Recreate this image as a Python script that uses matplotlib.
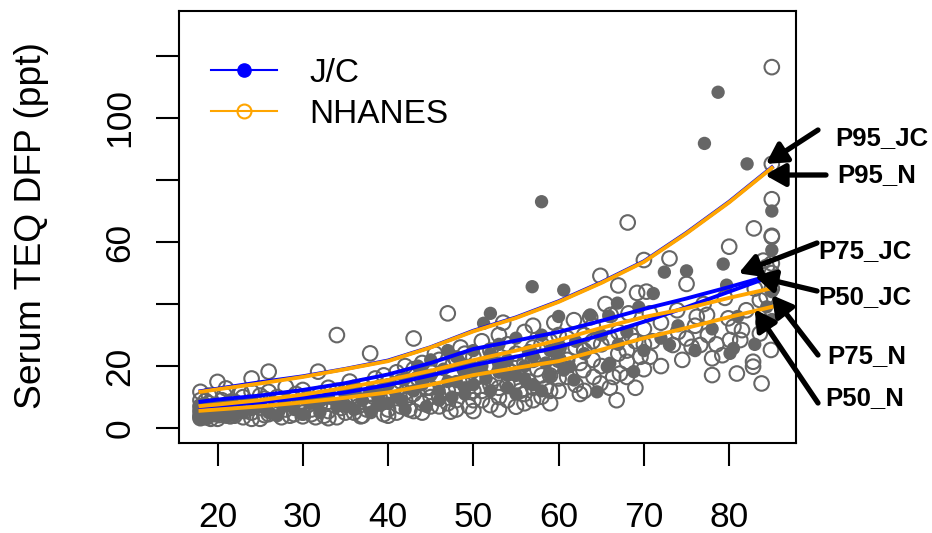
import numpy as np
import matplotlib.pyplot as plt
from matplotlib.lines import Line2D

plt.rcParams['font.family'] = ['Liberation Sans', 'DejaVu Sans']

GREY = '#666666'
BLUE = '#0000FF'
ORANGE = '#FFA500'

# percentile curves
ages = [18, 20, 25, 30, 35, 40, 45, 50, 55, 60, 65, 70, 75, 80, 85]
p95_jc = [11.9, 12.7, 14.8, 16.7, 19.1, 21.8, 26.1, 31.4, 35.7, 40.9, 47.0, 53.8, 63.0, 73.0, 84.1]
p75_jc = [8.5, 9.2, 10.5, 12.3, 14.5, 17.3, 21.0, 25.5, 28.2, 31.0, 34.6, 38.4, 41.8, 45.5, 49.4]
p50_jc = [6.4, 7.0, 8.3, 9.8, 11.5, 13.9, 17.0, 20.3, 23.0, 26.2, 30.0, 34.3, 39.0, 44.0, 49.0]
p95_n = [11.7, 12.5, 14.4, 16.5, 19.0, 21.6, 26.0, 31.2, 35.5, 40.7, 46.8, 53.6, 62.8, 72.8, 83.9]
p75_n = [7.1, 7.6, 9.0, 10.8, 13.0, 15.5, 18.5, 21.9, 25.0, 28.4, 32.3, 35.8, 38.6, 42.0, 45.1]
p50_n = [5.6, 6.0, 7.0, 8.3, 9.8, 11.5, 14.0, 17.1, 19.4, 21.6, 25.3, 29.0, 32.3, 35.8, 39.1]

# individual measurements (age, ppt)
nh_points = [
    (18, 11.7), (18, 9), (18, 7), (18, 5.5), (18, 4), (18.5, 6.5), (18.5, 3.5), (19, 8), (19, 5),
    (19, 10.5), (19.5, 4.5), (20, 14.9), (20, 7), (20, 6), (20, 3), (20.5, 9), (21, 12.8), (21, 5),
    (21, 7.5), (18, 3.2), (18.2, 6), (18.6, 8.8), (19.2, 3), (19.6, 7), (20.2, 4.2), (20.8, 10.8),
    (21.5, 8.5), (21.5, 3.8),
    (22, 4), (22, 8.5), (22.5, 6), (23, 10), (23, 3.5), (23.5, 7), (24, 16), (24, 11.7), (24, 5),
    (24.5, 8), (25, 3), (25, 6.5), (25.5, 9.5), (26, 18.2), (26, 11.7), (26, 4.5), (26.5, 7.5),
    (27, 10), (27, 5.5), (27.5, 3.5), (28, 13.3), (28, 8), (28, 6), (29, 4.5), (29, 9.5), (29.5, 7),
    (30, 12.3), (30, 5), (30, 3.8), (22, 6.5), (22.8, 11.5), (23.2, 5.5), (24, 3), (25, 10.5),
    (25.5, 4.2), (26.8, 5), (27.2, 8.8), (28.5, 4), (29.2, 11), (30, 7), (30.5, 9.5),
    (31, 9), (31, 6), (31.5, 3.5), (31.8, 18.2), (32, 11), (32, 7.5), (32.5, 4), (33, 13), (33, 8.5),
    (33, 5.5), (34, 30), (34, 10), (34, 3.5), (34.5, 6.5), (35, 12), (35, 8), (35.5, 15), (36, 5),
    (36, 10.5), (36.5, 7), (37, 13.5), (37, 4), (37.5, 9), (37.9, 24.1), (38, 11), (38, 6.5),
    (38.5, 16), (39, 8), (39, 13), (39.5, 4.5), (40, 10), (40, 15), (40, 6), (31, 4.5), (32, 9.5),
    (33, 3.2), (34, 12), (35, 5), (35.5, 9.5), (36, 13), (36.8, 3.8), (37.5, 6), (38, 8.5), (39, 10),
    (39.5, 17), (40, 4),
    (41, 12), (41, 18), (41.5, 7), (42, 20), (42, 9), (42.5, 14), (43, 28.9), (43, 11), (43, 5.5),
    (43.5, 16), (44, 21), (44, 8), (44.5, 13), (45, 18), (45, 10), (45.5, 24), (46, 7), (46, 15),
    (46.5, 20), (47, 37), (47, 12), (47.3, 5.3), (47.5, 17), (48, 22), (48, 9), (48.5, 26), (49, 14),
    (49, 19), (49.5, 7), (50, 9), (50, 23), (50, 16), (41, 5), (41.5, 15), (42, 11.5), (42.5, 6),
    (43, 19), (44, 5), (44, 16), (45, 7), (45, 13), (46, 10), (46, 22), (47, 8), (48, 6), (48, 13),
    (49, 24), (50, 5.5), (50, 12), (50, 19),
    (51, 28), (51, 12), (51.5, 20), (52, 7.4), (52, 25), (52.5, 16), (53, 30), (53, 10), (53.5, 22),
    (54, 14), (54, 27), (54.5, 18), (55, 6.9), (55, 24), (55.5, 12), (56, 21), (56, 31), (56.5, 15),
    (57, 9), (57, 26), (57.5, 19), (58, 10.1), (58, 23), (58.5, 13), (59, 28), (59, 17), (59.5, 34),
    (60, 12), (60, 22), (60, 30), (51, 9), (51, 17), (52, 14), (52, 20), (53, 6), (53, 13), (54, 9),
    (54, 19), (55, 15), (55, 21), (56, 8), (56, 11), (57, 13), (57, 22), (58, 17), (58, 27), (59, 8),
    (59, 12), (60, 16), (60, 26), (53.5, 34), (57, 33),
    (61, 16.5), (61.8, 34.8), (62, 26), (62.5, 11), (62.9, 18.7), (63, 30), (63.7, 35.7), (64, 22),
    (64.1, 16.5), (64.9, 14.4), (64.9, 49.1), (65, 27), (65.5, 40), (66.1, 36.5), (66.4, 16.5),
    (66.8, 9), (67, 46), (67, 24), (67.2, 17.6), (68, 21.4), (68, 16.5), (68.1, 66.3), (68.2, 37),
    (68.5, 30), (69.2, 43.6), (69.6, 23), (70, 54.2), (70.3, 44), (70.7, 37), (70.7, 23), (70, 32),
    (61, 22), (61, 29), (62, 14), (62.5, 21), (63, 12), (63, 25), (64, 28), (64, 33), (65, 20),
    (66, 13), (66, 29), (67, 31), (68, 25), (69, 13), (69, 28), (70, 19), (70, 27),
    (71, 28), (72, 34), (72, 20), (73, 54.7), (73.4, 26.8), (73.9, 38), (74, 31), (74.5, 22),
    (75, 46.5), (75, 28.9), (75.6, 26.2), (76, 33), (76.2, 35.9), (76.6, 26.8), (77, 40), (77.4, 36.5),
    (77.5, 30), (78, 22.5), (78, 17.1), (78.5, 27), (79.2, 23.5), (79.5, 42), (79.9, 35.4), (80, 58.5),
    (80.1, 28.4), (80.5, 32.7), (80.9, 17.6),
    (81.3, 28.4), (81.5, 31.6), (82, 38), (82.8, 21.4), (82.8, 19.8), (82.9, 64.4), (83, 45),
    (83.6, 41.3), (83.6, 30.5), (83.8, 14.4), (84, 54), (84, 34), (84.4, 52), (84.4, 42.4),
    (84.9, 25.2), (85, 116.4), (85, 85.2), (85, 73.8), (85, 62), (85, 61.7), (85, 53.1), (85, 50),
    (85, 45), (85, 38), (85, 48),
]

jc_points = [
    (18, 3), (18, 4.5), (18, 6), (18, 7.5), (18.3, 5), (18.5, 3.5), (18.5, 8), (19, 4), (19, 6.5),
    (19.5, 5.5), (20, 4), (20, 7), (20.5, 5), (21, 3.5), (21, 6), (18, 5.5), (18.8, 3), (19.3, 7.5),
    (20, 5.5), (21, 8),
    (23, 5), (25, 7), (27, 4), (29, 6), (31, 8), (32, 5), (33, 10), (34, 7), (35, 11), (36, 6),
    (37, 9), (38, 12), (39, 7.5), (40, 14), (40, 8), (22, 4), (24, 6), (26, 5), (28, 7.5), (30, 4.5),
    (32, 9), (35, 7), (36, 13), (38, 5), (39, 11),
    (41, 10), (41.6, 9), (42, 16), (43, 12), (43.5, 20), (44, 14), (44.5, 7), (45, 22), (45, 17),
    (46, 12), (46.5, 19), (47, 25), (47.5, 10), (48, 15), (48.5, 21), (49, 18), (49, 11), (50, 25),
    (50, 14), (51, 20), (51.2, 33.8), (51.5, 16), (52, 37), (52, 24), (53, 18), (53, 27), (54, 13),
    (54, 22), (55, 29), (55, 17), (56, 20), (56.5, 25), (56.9, 45.6), (57, 14), (58, 73), (58, 30),
    (58.5, 21), (59, 17), (60, 26), (60.6, 44.5), (60.6, 18.7), (60, 36), (42, 6), (44, 18), (46, 9),
    (47, 15), (48, 23), (49, 13), (50, 18), (52, 12), (53, 21), (54, 17), (55, 11), (56, 16), (57, 23),
    (58, 12), (59, 25), (60, 22),
    (61.3, 19.8), (61.8, 15.5), (62, 28), (63, 24), (63.7, 36.5), (64.5, 11.7), (65, 30), (65.7, 19.8),
    (65.9, 36.1), (66, 20.9), (66.9, 40.3), (67, 27), (68, 31), (68.8, 18.2), (69.4, 39), (70, 25),
    (71.1, 43.4), (72, 29), (72.4, 50.3), (73, 26.8), (74, 33), (75, 50.7), (76, 25), (77.1, 91.8),
    (78, 32), (78.7, 108.3), (79.3, 52.9), (79.7, 46.1), (80.1, 24.1), (80.5, 25.7), (81, 36),
    (82.1, 85.2), (83, 27), (84.4, 39.1), (85, 57.4), (85, 70), (85, 44), (85, 35),
]

x_ticks = [20, 30, 40, 50, 60, 70, 80]
y_ticks = [0, 20, 40, 60, 80, 100, 120]
y_labels = ['0', '20', '', '60', '', '100', '']

# arrow labels: text, arrow tip (data), arrow tail (fig px), text pos (fig px)
arrow_labels = ['P95_JC', 'P95_N', 'P75_JC', 'P50_JC', 'P75_N', 'P50_N']
arrow_tips = [(84.3, 85.2), (84.2, 81.6), (81.1, 49.9), (83.0, 49.0), (85.0, 42.9), (83.0, 38.3)]
arrow_tails = [(818, 403), (826, 358), (817, 290), (817, 242), (818, 178), (818, 130)]
label_pos = [(835, 395), (837, 358), (818, 282), (818, 236), (827, 177), (825, 135)]

fig = plt.figure(figsize=(9.32, 5.33), dpi=100)
ax = fig.add_axes([178.7 / 932, 1 - 443.3 / 533, 617 / 932, 432.3 / 533])

nh = np.array(nh_points)
jc = np.array(jc_points)
ax.scatter(nh[:, 0], nh[:, 1], s=10.5 ** 2, facecolors='none', edgecolors=GREY, linewidths=1.5)
ax.scatter(jc[:, 0], jc[:, 1], s=9.6 ** 2, color=GREY, edgecolors='none')

lw = 2.8
for curve in (p95_jc, p75_jc, p50_jc):
    ax.plot(ages, curve, color=BLUE, lw=lw)
for curve in (p95_n, p75_n, p50_n):
    ax.plot(ages, curve, color=ORANGE, lw=lw)

ax.set_xlim(15.45, 87.8)
ax.set_ylim(-4.9, 134.5)
ax.set_xticks(x_ticks)
ax.set_xticklabels([str(t) for t in x_ticks])
ax.set_yticks(y_ticks)
ax.set_yticklabels(y_labels, rotation=90, va='center')
ax.tick_params(axis='x', length=16.6, width=1.5, labelsize=25.5, pad=25)
ax.tick_params(axis='y', length=16.6, width=1.5, labelsize=25.5, pad=14)
for sp in ax.spines.values():
    sp.set_linewidth(1.5)

fig.text(32 / 932, 1 - 226 / 533, 'Serum TEQ DFP (ppt)', rotation=90,
         ha='center', va='center', fontsize=26.8)

handles = [
    Line2D([], [], color=BLUE, lw=1.5, marker='o', ms=9.5, mfc=BLUE, mec=BLUE),
    Line2D([], [], color=ORANGE, lw=1.5, marker='o', ms=10, mfc='none', mec=ORANGE, mew=1.5),
]
ax.legend(handles, ['J/C', 'NHANES'], loc='upper left', bbox_to_anchor=(0.052, 0.892),
          frameon=False, fontsize=24, handlelength=2.0, handletextpad=0.95,
          labelspacing=0.3, borderpad=0, borderaxespad=0)

for lab, tip, tail, pos in zip(arrow_labels, arrow_tips, arrow_tails, label_pos):
    ax.annotate('', xy=tip, xycoords='data', xytext=tail, textcoords='figure pixels',
                arrowprops=dict(arrowstyle='-|>,head_length=0.8,head_width=0.45',
                                lw=3.8, color='black', mutation_scale=15,
                                shrinkA=0, shrinkB=0),
                annotation_clip=False)
    fig.text(pos[0] / 932, pos[1] / 533, lab, fontsize=18.5, fontweight='bold',
             ha='left', va='center')

fig.savefig('out.png', dpi=100)
